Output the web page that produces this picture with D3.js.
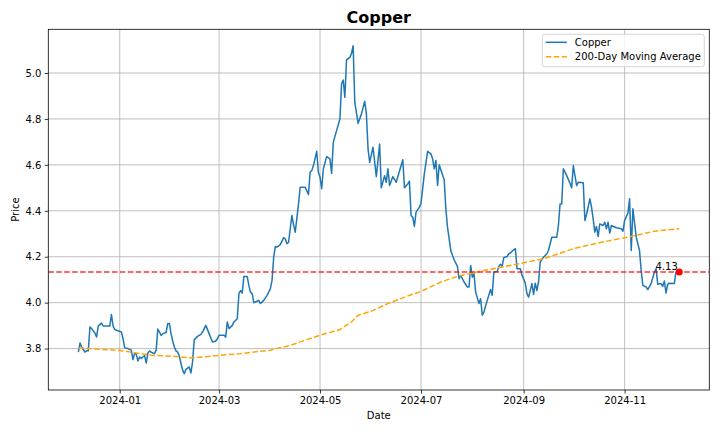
<!DOCTYPE html>
<html>
<head>
<meta charset="utf-8">
<script src="https://cdn.jsdelivr.net/npm/d3@7"></script>
<style>
  body { margin: 0; background: #fff; }
  svg text { font-family: "DejaVu Sans", sans-serif; fill: #000; }
</style>
</head>
<body>
<script>
// copper close prices
var dates = [
  '2023-12-07','2023-12-08','2023-12-09','2023-12-11','2023-12-12','2023-12-13','2023-12-14','2023-12-15','2023-12-17','2023-12-18',
  '2023-12-19','2023-12-21','2023-12-22','2023-12-24','2023-12-26','2023-12-27','2023-12-28','2023-12-29','2023-12-30','2024-01-02',
  '2024-01-03','2024-01-04','2024-01-06','2024-01-08','2024-01-09','2024-01-10','2024-01-11','2024-01-12','2024-01-13','2024-01-14',
  '2024-01-16','2024-01-17','2024-01-18','2024-01-19','2024-01-20','2024-01-22','2024-01-23','2024-01-24','2024-01-25','2024-01-26',
  '2024-01-27','2024-01-29','2024-01-30','2024-01-31','2024-02-01','2024-02-02','2024-02-03','2024-02-04','2024-02-05','2024-02-06',
  '2024-02-07','2024-02-08','2024-02-09','2024-02-10','2024-02-12','2024-02-13','2024-02-14','2024-02-15','2024-02-17','2024-02-19',
  '2024-02-20','2024-02-22','2024-02-24','2024-02-26','2024-02-28','2024-02-29','2024-03-01','2024-03-04','2024-03-05','2024-03-06',
  '2024-03-07','2024-03-09','2024-03-10','2024-03-12','2024-03-13','2024-03-14','2024-03-15','2024-03-16','2024-03-18','2024-03-19',
  '2024-03-20','2024-03-21','2024-03-22','2024-03-23','2024-03-25','2024-03-26','2024-03-28','2024-03-30','2024-04-01','2024-04-02',
  '2024-04-03','2024-04-04','2024-04-05','2024-04-07','2024-04-09','2024-04-10','2024-04-11','2024-04-12','2024-04-13','2024-04-14',
  '2024-04-15','2024-04-16','2024-04-17','2024-04-18','2024-04-19','2024-04-22','2024-04-24','2024-04-25','2024-04-26','2024-04-27',
  '2024-04-29','2024-04-30','2024-05-01','2024-05-02','2024-05-03','2024-05-05','2024-05-07','2024-05-08','2024-05-09','2024-05-11',
  '2024-05-13','2024-05-14','2024-05-15','2024-05-16','2024-05-17','2024-05-19','2024-05-20','2024-05-21','2024-05-22','2024-05-24',
  '2024-05-26','2024-05-28','2024-05-29','2024-05-30','2024-05-31','2024-06-02','2024-06-04','2024-06-06','2024-06-07','2024-06-09',
  '2024-06-10','2024-06-11','2024-06-12','2024-06-14','2024-06-16','2024-06-20','2024-06-21','2024-06-23','2024-06-24','2024-06-25',
  '2024-06-26','2024-06-27','2024-06-28','2024-06-30','2024-07-01','2024-07-03','2024-07-05','2024-07-07','2024-07-08','2024-07-09',
  '2024-07-10','2024-07-11','2024-07-12','2024-07-13','2024-07-15','2024-07-16','2024-07-17','2024-07-19','2024-07-20','2024-07-21',
  '2024-07-23','2024-07-24','2024-07-25','2024-07-27','2024-07-29','2024-07-30','2024-07-31','2024-08-01','2024-08-02','2024-08-03',
  '2024-08-05','2024-08-06','2024-08-07','2024-08-08','2024-08-10','2024-08-12','2024-08-13','2024-08-14','2024-08-16','2024-08-17',
  '2024-08-18','2024-08-19','2024-08-20','2024-08-22','2024-08-23','2024-08-24','2024-08-25','2024-08-27','2024-08-28','2024-08-29',
  '2024-08-30','2024-08-31','2024-09-02','2024-09-03','2024-09-04','2024-09-06','2024-09-07','2024-09-08','2024-09-09','2024-09-10',
  '2024-09-11','2024-09-13','2024-09-15','2024-09-16','2024-09-18','2024-09-21','2024-09-22','2024-09-23','2024-09-24','2024-09-25',
  '2024-09-27','2024-09-29','2024-09-30','2024-10-01','2024-10-03','2024-10-04','2024-10-07','2024-10-08','2024-10-09','2024-10-11',
  '2024-10-12','2024-10-13','2024-10-14','2024-10-15','2024-10-16','2024-10-17','2024-10-19','2024-10-20','2024-10-21','2024-10-22',
  '2024-10-23','2024-10-24','2024-10-27','2024-10-30','2024-10-31','2024-11-01','2024-11-03','2024-11-04','2024-11-05','2024-11-06',
  '2024-11-08','2024-11-10','2024-11-11','2024-11-12','2024-11-14','2024-11-15','2024-11-17','2024-11-19','2024-11-20','2024-11-21',
  '2024-11-23','2024-11-24','2024-11-25','2024-11-26','2024-11-27','2024-11-28','2024-12-01','2024-12-02','2024-12-04'
];
var prices = [
  3.785,3.824,3.807,3.785,3.790,3.790,3.894,3.887,3.868,3.850,
  3.898,3.911,3.898,3.898,3.898,3.948,3.898,3.883,3.880,3.872,
  3.843,3.803,3.800,3.793,3.752,3.781,3.775,3.746,3.763,3.757,
  3.770,3.737,3.781,3.790,3.784,3.778,3.793,3.885,3.872,3.857,
  3.865,3.870,3.909,3.909,3.865,3.833,3.807,3.790,3.785,3.767,
  3.735,3.706,3.691,3.709,3.720,3.694,3.742,3.839,3.853,3.862,
  3.872,3.901,3.865,3.829,3.833,3.843,3.858,3.858,3.850,3.916,
  3.887,3.901,3.916,3.930,4.039,4.053,4.042,4.114,4.114,4.075,
  4.046,4.039,4.000,4.003,4.010,3.996,4.010,4.032,4.061,4.097,
  4.198,4.245,4.242,4.253,4.283,4.278,4.257,4.263,4.323,4.380,
  4.340,4.307,4.367,4.430,4.503,4.503,4.471,4.568,4.575,4.597,
  4.659,4.568,4.546,4.496,4.583,4.636,4.626,4.563,4.698,4.749,
  4.800,4.952,4.970,4.894,5.057,5.068,5.085,5.119,4.872,4.781,
  4.822,4.877,4.822,4.670,4.611,4.677,4.549,4.691,4.500,4.553,
  4.524,4.583,4.510,4.549,4.524,4.622,4.500,4.517,4.529,4.380,
  4.372,4.332,4.394,4.416,4.433,4.561,4.659,4.648,4.626,4.583,
  4.619,4.510,4.601,4.578,4.535,4.409,4.329,4.227,4.206,4.187,
  4.158,4.104,4.119,4.090,4.068,4.068,4.162,4.111,4.126,4.046,
  3.996,4.017,3.945,3.959,4.010,4.057,4.032,4.133,4.136,4.158,
  4.167,4.158,4.196,4.201,4.213,4.216,4.224,4.235,4.148,4.148,
  4.148,4.119,4.085,4.039,4.024,4.083,4.036,4.085,4.053,4.090,
  4.177,4.198,4.213,4.227,4.285,4.285,4.336,4.430,4.430,4.583,
  4.553,4.520,4.500,4.597,4.510,4.524,4.522,4.358,4.384,4.452,
  4.416,4.365,4.307,4.332,4.288,4.343,4.336,4.350,4.322,4.350,
  4.303,4.336,4.326,4.322,4.311,4.358,4.390,4.452,4.227,4.409,
  4.285,4.227,4.140,4.075,4.068,4.057,4.083,4.133,4.148,4.080,
  4.083,4.071,4.094,4.042,4.080,4.085,4.083,4.134,4.134
];

// 200-day moving average
var maDates = [
  '2023-12-07','2023-12-20','2024-01-01','2024-01-20','2024-02-01','2024-02-14','2024-03-02','2024-03-14',
  '2024-04-01','2024-04-13','2024-05-01','2024-05-13','2024-05-20','2024-05-24','2024-06-01','2024-06-11',
  '2024-06-21','2024-07-01','2024-07-13','2024-07-23','2024-08-08','2024-08-24','2024-09-13','2024-10-01',
  '2024-10-18','2024-11-03','2024-11-19','2024-12-04'
];
var maValues = [
  3.803,3.797,3.792,3.771,3.767,3.759,3.771,3.778,
  3.793,3.814,3.858,3.883,3.916,3.945,3.963,3.996,
  4.024,4.049,4.090,4.114,4.140,4.162,4.191,4.235,
  4.263,4.285,4.311,4.322
];

var yTicks = [3.8, 4.0, 4.2, 4.4, 4.6, 4.8, 5.0];
var xTicks = ['2024-01-01','2024-03-01','2024-05-01','2024-07-01','2024-09-01','2024-11-01'];
var seriesNames = ['Copper', '200-Day Moving Average'];

var W = 720, H = 432,
    mLeft = 48.3, mRight = 709.3, mTop = 29.3, mBottom = 390;

var parse = d3.timeParse('%Y-%m-%d');
var priceData = dates.map(function (d, i) { return {date: parse(d), value: prices[i]}; });
var maData = maDates.map(function (d, i) { return {date: parse(d), value: maValues[i]}; });
var all = priceData.concat(maData);

// matplotlib style 5% margins
var xExt = d3.extent(all, function (d) { return d.date; }),
    xPad = (xExt[1] - xExt[0]) * 0.05;
var x = d3.scaleTime()
  .domain([new Date(+xExt[0] - xPad), new Date(+xExt[1] + xPad)])
  .range([mLeft, mRight]);

var yExt = d3.extent(all, function (d) { return d.value; }),
    yPad = (yExt[1] - yExt[0]) * 0.05;
var y = d3.scaleLinear()
  .domain([yExt[0] - yPad, yExt[1] + yPad])
  .range([mBottom, mTop]);

var svg = d3.select('body').append('svg')
  .attr('width', W).attr('height', H)
  .attr('viewBox', '0 0 ' + W + ' ' + H);

svg.append('defs').append('clipPath').attr('id', 'plotClip')
  .append('rect').attr('x', mLeft).attr('y', mTop)
  .attr('width', mRight - mLeft).attr('height', mBottom - mTop);

// grid
var grid = svg.append('g').attr('stroke', '#b0b0b0').attr('stroke-width', 0.8);
grid.selectAll('.gx').data(xTicks).enter().append('line')
  .attr('x1', function (d) { return x(parse(d)); })
  .attr('x2', function (d) { return x(parse(d)); })
  .attr('y1', mTop).attr('y2', mBottom);
grid.selectAll('.gy').data(yTicks).enter().append('line')
  .attr('y1', function (d) { return y(d); })
  .attr('y2', function (d) { return y(d); })
  .attr('x1', mLeft).attr('x2', mRight);

var plot = svg.append('g').attr('clip-path', 'url(#plotClip)');

var line = d3.line()
  .x(function (d) { return x(d.date); })
  .y(function (d) { return y(d.value); });

plot.append('path')
  .datum(priceData)
  .attr('d', line)
  .attr('fill', 'none')
  .attr('stroke', '#1f77b4')
  .attr('stroke-width', 1.5)
  .attr('stroke-linejoin', 'round');

plot.append('path')
  .datum(maData)
  .attr('d', line)
  .attr('fill', 'none')
  .attr('stroke', 'orange')
  .attr('stroke-width', 1.5)
  .attr('stroke-dasharray', '5.55,2.4');

// last price marker
var last = priceData[priceData.length - 1];
plot.append('line')
  .attr('x1', mLeft).attr('x2', mRight)
  .attr('y1', y(last.value)).attr('y2', y(last.value))
  .attr('stroke', 'red')
  .attr('stroke-opacity', 0.8)
  .attr('stroke-width', 1.5)
  .attr('stroke-dasharray', '5.55,2.4');

plot.append('circle')
  .attr('cx', x(last.date)).attr('cy', y(last.value))
  .attr('r', 3.5).attr('fill', 'red');

svg.append('text')
  .attr('x', x(last.date) - 1.5)
  .attr('y', y(last.value) - 2.3)
  .attr('text-anchor', 'end')
  .attr('font-size', 10)
  .text(last.value.toFixed(2));

// axes
var xAxis = d3.axisBottom(x)
  .tickValues(xTicks.map(parse))
  .tickFormat(d3.timeFormat('%Y-%m'))
  .tickSizeInner(3.5).tickSizeOuter(0).tickPadding(3.5);
var yAxis = d3.axisLeft(y)
  .tickValues(yTicks)
  .tickFormat(d3.format('.1f'))
  .tickSizeInner(3.5).tickSizeOuter(0).tickPadding(3.5);

function styleAxis(g) {
  g.attr('font-family', null).attr('font-size', null);
  g.select('.domain').remove();
  g.selectAll('.tick line').attr('stroke', '#000').attr('stroke-width', 0.8);
  g.selectAll('.tick text').attr('font-size', 10).attr('fill', '#000');
}
svg.append('g').attr('transform', 'translate(0,' + mBottom + ')').call(xAxis).call(styleAxis);
svg.append('g').attr('transform', 'translate(' + mLeft + ',0)').call(yAxis).call(styleAxis);

// spines
svg.append('rect')
  .attr('x', mLeft).attr('y', mTop)
  .attr('width', mRight - mLeft).attr('height', mBottom - mTop)
  .attr('fill', 'none').attr('stroke', '#000').attr('stroke-width', 0.8);

// labels
svg.append('text')
  .attr('x', (mLeft + mRight) / 2).attr('y', mTop - 6)
  .attr('text-anchor', 'middle')
  .attr('font-size', 16).attr('font-weight', 'bold')
  .text('Copper');
svg.append('text')
  .attr('x', (mLeft + mRight) / 2).attr('y', 419)
  .attr('text-anchor', 'middle').attr('font-size', 10)
  .text('Date');
svg.append('text')
  .attr('transform', 'translate(19,' + ((mTop + mBottom) / 2) + ') rotate(-90)')
  .attr('text-anchor', 'middle').attr('font-size', 10)
  .text('Price');

// legend
var legend = svg.append('g').attr('transform', 'translate(542.3,34.3)');
legend.append('rect')
  .attr('width', 162).attr('height', 32.4).attr('rx', 2.5)
  .attr('fill', '#fff').attr('fill-opacity', 0.8)
  .attr('stroke', '#cccccc').attr('stroke-width', 0.8);
var rows = legend.selectAll('.row').data(seriesNames).enter().append('g')
  .attr('transform', function (d, i) { return 'translate(0,' + (8 + i * 14.4) + ')'; });
rows.append('line')
  .attr('x1', 3.5).attr('x2', 24.5)
  .attr('stroke', function (d, i) { return i === 0 ? '#1f77b4' : 'orange'; })
  .attr('stroke-width', 1.5)
  .attr('stroke-dasharray', function (d, i) { return i === 0 ? null : '5.55,2.4'; });
rows.append('text')
  .attr('x', 32.5).attr('dy', '0.35em')
  .attr('font-size', 10)
  .text(function (d) { return d; });
</script>
</body>
</html>
